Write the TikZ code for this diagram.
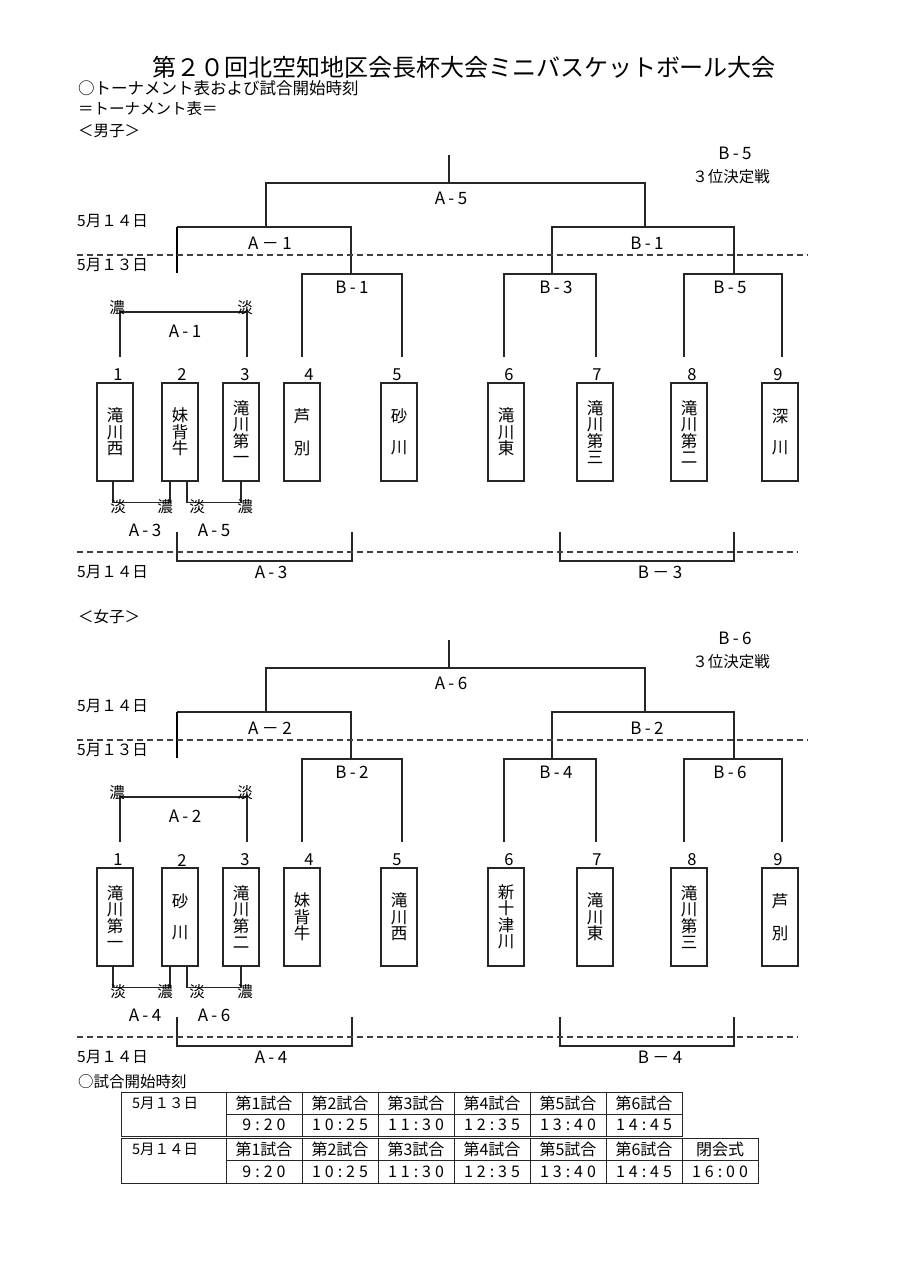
\documentclass[tikz,border=0pt]{standalone}
\usepackage{fontspec}
\setmainfont{Noto Sans CJK JP}
\newfontfamily\spfont[LetterSpace=20]{Noto Sans CJK JP}
\newfontfamily\tmfont[LetterSpace=25]{Noto Sans CJK JP}

\tikzset{
  ln/.style={draw=black!85, line width=1.1pt},
  heavy/.style={draw=black, line width=2.6pt},
  dayline/.style={draw=black!75, line width=1.3pt, dash pattern=on 6pt off 4pt},
  lbl/.style={font=\spfont\fontsize{17}{19}\selectfont, inner sep=0pt},
  tlbl/.style={font=\tmfont\fontsize{16}{18}\selectfont, inner sep=0pt},
  jp/.style={font=\fontsize{15.5}{17}\selectfont, inner sep=0pt},
  tj/.style={font=\fontsize{14.5}{16}\selectfont, inner sep=0pt},
  th/.style={font=\fontsize{16}{18}\selectfont, inner sep=0pt},
  team/.style={draw=black!85, line width=1.2pt, minimum width=36pt, minimum height=98pt,
    inner sep=0pt, align=center, font=\fontsize{16.5}{16.5}\selectfont},
  num/.style={font=\fontsize{16.5}{18}\selectfont, inner sep=0pt},
}

\begin{document}
\begin{tikzpicture}[x=1pt, y=-1pt]
  \useasboundingbox (0,0) rectangle (905,1280);

  % Headings
  \node[font=\fontsize{24}{26}\selectfont, inner sep=0pt] (title) at (464,67)
    {第２０回北空知地区会長杯大会ミニバスケットボール大会};
  \node[jp, anchor=west, font=\fontsize{16.5}{18}\selectfont] (sub) at (78,88)
    {○トーナメント表および試合開始時刻};
  \node[jp, anchor=west] (tblhead) at (78,109) {＝トーナメント表＝};
  \node[jp, anchor=west] (boys) at (78,131) {＜男子＞};
  \node[jp, anchor=west] (girls) at (78,617) {＜女子＞};

  % Team boxes, boys
  \foreach \i/\x/\nx/\nm in {1/115/118/{滝\\川\\西}, 2/180/182/{妹\\背\\牛},
      3/241/245/{滝\\川\\第\\一}, 4/302/309/{芦\\[15pt]別}, 5/399/397/{砂\\[15pt]川},
      6/506/509/{滝\\川\\東}, 7/595/597/{滝\\川\\第\\三}, 8/689/692/{滝\\川\\第\\二},
      9/780/778/{深\\[15pt]川}}{
    \node[team] (b1-\i) at (\x,432) {\nm};
    \node[num] (n1-\i) at (\nx,375) {\i};
  }
  % Team boxes, girls
  \begin{scope}[shift={(0,485)}]
  \foreach \i/\x/\nx/\nm in {1/115/118/{滝\\川\\第\\一}, 2/180/182/{砂\\[15pt]川},
      3/241/245/{滝\\川\\第\\二}, 4/302/309/{妹\\背\\牛}, 5/399/397/{滝\\川\\西},
      6/506/509/{新\\十\\津\\川}, 7/595/597/{滝\\川\\東}, 8/689/692/{滝\\川\\第\\三},
      9/780/778/{芦\\[15pt]別}}{
    \node[team] (b2-\i) at (\x,432) {\nm};
    \node[num] (n2-\i) at (\nx,375) {\i};
  }
  \end{scope}

  % Brackets (1 = boys, 2 = girls)
  \foreach \k/\oy in {1/0,2/485}{
    \pgfmathtruncatemacro\kb{\k+2}
    \pgfmathtruncatemacro\kc{\k+4}
    \begin{scope}[shift={(0,\oy)}]
      % 14th
      \draw[ln] (449,155) -- (449,183);
      \draw[ln] (266,227) -- (266,183) -- (645,183) -- (645,227);
      \draw[ln] (177,227) -- (351,227) -- (351,274);
      \draw[heavy] (177,227) -- (177,273);
      \draw[ln] (552,274) -- (552,227) -- (734,227) -- (734,274);
      % 13th
      \draw[ln] (302,357) -- (302,274) -- (402,274) -- (402,357);
      \draw[ln] (504,357) -- (504,274) -- (596,274) -- (596,357);
      \draw[ln] (684,357) -- (684,274) -- (782,274) -- (782,357);
      \draw[ln] (120,357) -- (120,312) -- (247,312) -- (247,357);
      \draw[ln] ([xshift=-2pt]b\k-1.south) -- ++(0,21) -| ([xshift=-10pt]b\k-2.south);
      \draw[ln] ([xshift=7pt]b\k-2.south) -- ++(0,21) -| (b\k-3.south);
      \draw[ln] (177,532) -- (177,561) -- (352,561) -- (352,532);
      \draw[ln] (560,532) -- (560,561) -- (734,561) -- (734,532);
      \draw[dayline] (77,255) -- (808,255);
      \draw[dayline] (77,552) -- (798,552);

      \node[lbl] (fin-\k) at (451,198) {A-\kc};
      \node[lbl] (sfa-\k) at (270,243) {A－\k};
      \node[lbl] (sfb-\k) at (647,243) {B-\k};
      \node[lbl] (qa-\k) at (352,287) {B-\k};
      \node[lbl] (qb-\k) at (556,287) {B-\kb};
      \node[lbl] (qc-\k) at (730,287) {B-\kc};
      \node[lbl] (third-\k) at (735,153) {B-\kc};
      \node[jp] (thirdtx-\k) at (731,177) {３位決定戦};
      \node[jp, anchor=west] (dayb-\k) at (77,221) {5月１４日};
      \node[jp, anchor=west] (daya-\k) at (77,265) {5月１３日};
      \node[jp, anchor=west] (dayc-\k) at (77,572) {5月１４日};

      \node[jp] (dk1-\k) at (117,308) {濃};
      \node[jp] (ta1-\k) at (245,308) {淡};
      \node[lbl] (ga-\k) at (185,331) {A-\k};
      \node[jp] (ta2-\k) at (118,507) {淡};
      \node[jp] (dk2-\k) at (165,507) {濃};
      \node[jp] (ta3-\k) at (197,507) {淡};
      \node[jp] (dk3-\k) at (245,507) {濃};
      \node[lbl] (gb-\k) at (145,530) {A-\kb};
      \node[lbl] (gc-\k) at (214,530) {A-\kc};
      \node[lbl] (lo-\k) at (271,572) {A-\kb};
      \node[lbl] (lob-\k) at (660,572) {B－\kb};
    \end{scope}
  }

  % Match times
  \node[jp, anchor=west] (timeshead) at (78,1082) {○試合開始時刻};
  \draw[ln, line width=0.9pt] (121,1092) rectangle (682,1136);
  \draw[ln, line width=0.9pt] (121,1138) rectangle (758,1183);
  \draw[ln, line width=0.9pt] (226,1114) -- (682,1114);
  \draw[ln, line width=0.9pt] (226,1160) -- (758,1160);
  \foreach \c in {1,...,6}
    \draw[ln, line width=0.9pt] (150+76*\c,1092) -- (150+76*\c,1136);
  \foreach \c in {1,...,7}
    \draw[ln, line width=0.9pt] (150+76*\c,1138) -- (150+76*\c,1183);
  \node[tj, anchor=west] (d13) at (132,1103) {5月１３日};
  \node[tj, anchor=west] (d14) at (132,1149) {5月１４日};
  \foreach \c/\tm in {1/9:20, 2/10:25, 3/11:30, 4/12:35, 5/13:40, 6/14:45}{
    \node[th] (ga\c) at (188+76*\c,1103) {第\c 試合};
    \node[tlbl] (ta\c) at (188+76*\c,1125) {\tm};
    \node[th] (gb\c) at (188+76*\c,1149) {第\c 試合};
    \node[tlbl] (tb\c) at (188+76*\c,1171.5) {\tm};
  }
  \node[th] (close) at (720,1149) {閉会式};
  \node[tlbl] (closet) at (720,1171.5) {16:00};
\end{tikzpicture}
\end{document}
